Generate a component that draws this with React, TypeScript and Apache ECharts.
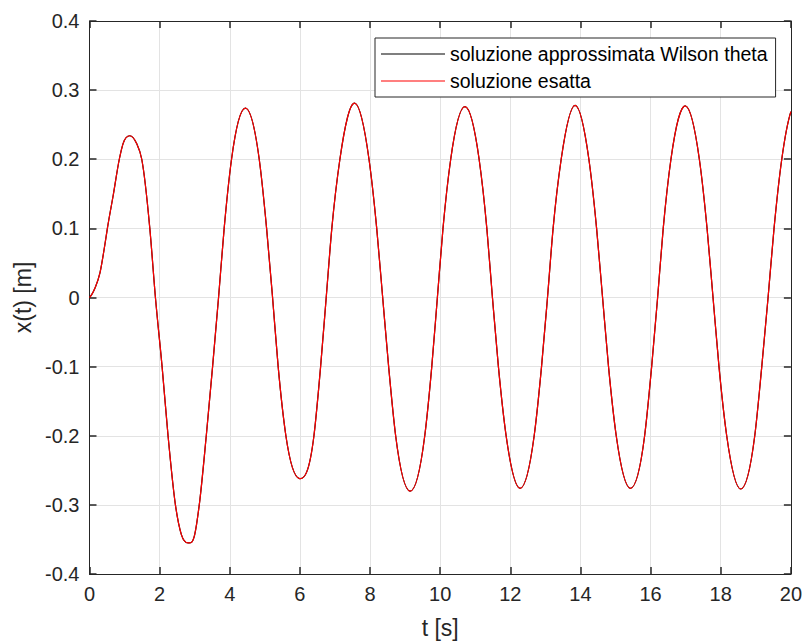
import React, { useEffect, useRef } from "react";
import * as echarts from "echarts";

// time samples [s] (extrema and level crossings)
const tValues: number[] = [
  0, 0.16, 0.3, 0.44, 0.51, 0.68, 0.85, 0.96, 1.15, 1.34, 1.49, 1.72, 1.88, 2.07, 2.24, 2.45, 2.62, 2.81,
  3.0, 3.13, 3.33, 3.51, 3.68, 3.84, 4.05, 4.44, 4.84, 5.05, 5.22, 5.38, 5.6, 5.99,
  6.4, 6.59, 6.75, 6.91, 7.14, 7.57, 7.97, 8.19, 8.36, 8.53, 8.73, 9.14,
  9.56, 9.76, 9.92, 10.08, 10.3, 10.71, 11.11, 11.33, 11.49, 11.66, 11.88, 12.28,
  12.68, 12.89, 13.06, 13.22, 13.45, 13.85, 14.24, 14.46, 14.63, 14.8, 15.02, 15.42,
  15.83, 16.03, 16.2, 16.36, 16.58, 17.0, 17.39, 17.61, 17.78, 17.95, 18.17, 18.57,
  18.97, 19.17, 19.35, 19.52, 19.74, 20.0,
];

// displacement x(t) [m]
const xValues: number[] = [
  0, 0.014, 0.036, 0.077, 0.1, 0.149, 0.2, 0.223, 0.234, 0.223, 0.2, 0.1, 0, -0.1, -0.2, -0.3, -0.343, -0.355,
  -0.343, -0.3, -0.2, -0.1, 0, 0.1, 0.2, 0.274, 0.2, 0.1, 0, -0.1, -0.2, -0.262,
  -0.2, -0.1, 0, 0.1, 0.2, 0.281, 0.2, 0.1, 0, -0.1, -0.2, -0.28,
  -0.2, -0.1, 0, 0.1, 0.2, 0.276, 0.2, 0.1, 0, -0.1, -0.2, -0.276,
  -0.2, -0.1, 0, 0.1, 0.2, 0.278, 0.2, 0.1, 0, -0.1, -0.2, -0.276,
  -0.2, -0.1, 0, 0.1, 0.2, 0.277, 0.2, 0.1, 0, -0.1, -0.2, -0.277,
  -0.2, -0.1, 0, 0.1, 0.2, 0.269,
];

const seriesNames: string[] = ["soluzione approssimata Wilson theta", "soluzione esatta"];
const seriesColors: string[] = ["#000000", "#ff0000"];
const xTicks = { min: 0, max: 20, interval: 2 };
const yTicks = { min: -0.4, max: 0.4, interval: 0.1 };
const xLabel = "t [s]";
const yLabel = "x(t) [m]";

const FONT = "'Liberation Sans', Arial, Helvetica, sans-serif";
const AX = "#262626";

// tangent (dy/dt) at each sample, three-point estimate, for drawing a smooth curve
function tangents(t: number[], y: number[]): number[] {
  const n = t.length;
  const h: number[] = [];
  const d: number[] = [];
  for (let i = 0; i < n - 1; i++) {
    h.push(t[i + 1] - t[i]);
    d.push((y[i + 1] - y[i]) / (t[i + 1] - t[i]));
  }
  const m: number[] = new Array(n).fill(0);
  for (let i = 1; i < n - 1; i++) {
    m[i] = (h[i - 1] * d[i] + h[i] * d[i - 1]) / (h[i - 1] + h[i]);
  }
  m[0] = d[0] - ((d[1] - d[0]) * h[0]) / (h[0] + h[1]);
  m[n - 1] = d[n - 2] + ((d[n - 2] - d[n - 3]) * h[n - 2]) / (h[n - 2] + h[n - 3]);
  return m;
}

export default function App() {
  const ref = useRef<HTMLDivElement>(null);
  useEffect(() => {
    if (!ref.current) return;
    const chart = echarts.init(ref.current, undefined, { renderer: "svg" });
    const data = tValues.map((t, i) => [t, xValues[i]]);
    const slopes = tangents(tValues, xValues);
    const axisCommon = {
      axisLine: { show: true, onZero: false, lineStyle: { color: AX, width: 1 } },
      axisTick: { show: true, inside: true, length: 7, lineStyle: { color: AX, width: 1.5 } },
    };
    const makeRender = (color: string) => (params: any, api: any) => {
      if (params.dataIndex !== 0) return null;
      const p0 = api.coord([tValues[0], xValues[0]]);
      let d = `M${p0[0]},${p0[1]}`;
      for (let i = 0; i < tValues.length - 1; i++) {
        const h = tValues[i + 1] - tValues[i];
        const c1 = api.coord([tValues[i] + h / 3, xValues[i] + (slopes[i] * h) / 3]);
        const c2 = api.coord([tValues[i + 1] - h / 3, xValues[i + 1] - (slopes[i + 1] * h) / 3]);
        const p = api.coord([tValues[i + 1], xValues[i + 1]]);
        d += ` C${c1[0]},${c1[1]} ${c2[0]},${c2[1]} ${p[0]},${p[1]}`;
      }
      return {
        type: "path",
        shape: { pathData: d },
        style: { stroke: color, lineWidth: 1.2, fill: "none" },
        silent: true,
      };
    };
    chart.setOption({
      animation: false,
      backgroundColor: "#ffffff",
      textStyle: { fontFamily: FONT },
      grid: { left: 89.5, right: 12.5, top: 21, bottom: 68.5, containLabel: false },
      legend: {
        orient: "vertical",
        left: 375,
        top: 38,
        data: seriesNames.map((name, i) => ({
          name,
          icon: "rect",
          itemStyle: { color: seriesColors[i] },
        })),
        backgroundColor: "#ffffff",
        borderColor: AX,
        borderWidth: 1,
        borderRadius: 0,
        padding: [5.5, 8, 5.5, 6],
        itemWidth: 64,
        itemHeight: 1.2,
        itemGap: 6,
        textStyle: { fontFamily: FONT, fontSize: 19.5, lineHeight: 21, color: "#000000" },
      },
      xAxis: [
        {
          type: "value",
          ...xTicks,
          position: "bottom",
          ...axisCommon,
          axisLabel: { color: AX, fontSize: 20, fontFamily: FONT, margin: 10 },
          splitLine: { show: true, lineStyle: { color: "#e3e3e3", width: 1 } },
          name: xLabel,
          nameLocation: "middle",
          nameGap: 42,
          nameTextStyle: { color: AX, fontSize: 23, fontFamily: FONT },
        },
        {
          type: "value",
          ...xTicks,
          position: "top",
          ...axisCommon,
          axisLabel: { show: false },
          splitLine: { show: false },
        },
      ],
      yAxis: [
        {
          type: "value",
          ...yTicks,
          position: "left",
          ...axisCommon,
          axisLabel: {
            color: AX,
            fontSize: 20,
            fontFamily: FONT,
            margin: 10,
            formatter: (v: number) => String(parseFloat(v.toFixed(1))),
          },
          splitLine: { show: true, lineStyle: { color: "#e3e3e3", width: 1 } },
          name: yLabel,
          nameLocation: "middle",
          nameGap: 41,
          nameTextStyle: { color: AX, fontSize: 23, fontFamily: FONT },
        },
        {
          type: "value",
          ...yTicks,
          position: "right",
          ...axisCommon,
          axisLabel: { show: false },
          splitLine: { show: false },
        },
      ],
      series: seriesNames.map((name, i) => ({
        name,
        type: "custom",
        coordinateSystem: "cartesian2d",
        xAxisIndex: 0,
        yAxisIndex: 0,
        data,
        encode: { x: 0, y: 1 },
        renderItem: makeRender(seriesColors[i]),
        itemStyle: { color: seriesColors[i] },
        z: 2 + i,
      })),
    });
    return () => chart.dispose();
  }, []);
  return (
    <div
      ref={ref}
      style={{ position: "absolute", left: 0, top: 0, width: 805, height: 644 }}
    />
  );
}
